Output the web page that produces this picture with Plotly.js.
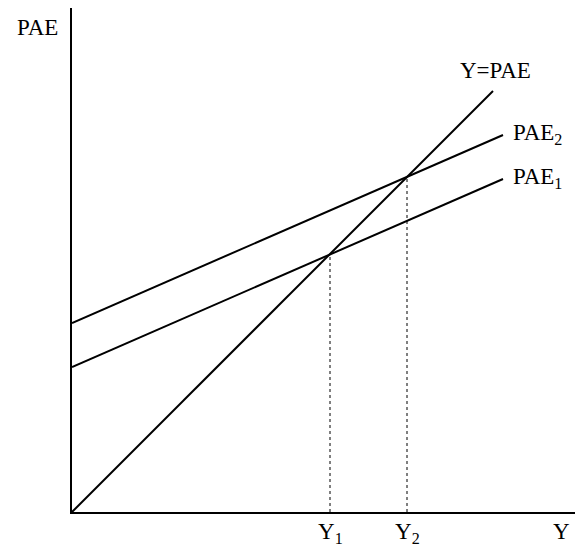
<!DOCTYPE html>
<html>
<head>
<meta charset="utf-8">
<script src="https://cdn.plot.ly/plotly-3.0.1.min.js"></script>
<style>html,body{margin:0;padding:0;background:#fff;}#chart{width:579px;height:550px;}</style>
</head>
<body>
<div id="chart"></div>
<script>
// Data (abstract output units)
const incomeRange = [0, 431];        // Y values for PAE lines
const paeLine1 = [145, 333];         // PAE1 at start/end of range
const paeLine2 = [189, 377];         // PAE2 at start/end of range
const equilibriumX = [0, 421];       // Y = PAE line
const equilibriumY = [0, 421];
const Y1 = 258;                      // first equilibrium
const Y2 = 335;                      // second equilibrium
const lineLabels = ["Y=PAE", "PAE<sub>2</sub>", "PAE<sub>1</sub>"];
const eqLabels = ["Y<sub>1</sub>", "Y<sub>2</sub>"];

const solid = {color: '#000', width: 2};
const dotted = {color: '#000', width: 1, dash: 'dot'};

const traces = [
  {x: equilibriumX, y: equilibriumY, mode: 'lines', line: solid, hoverinfo: 'skip'},
  {x: incomeRange, y: paeLine1, mode: 'lines', line: solid, hoverinfo: 'skip'},
  {x: incomeRange, y: paeLine2, mode: 'lines', line: solid, hoverinfo: 'skip'},
  {x: [Y1, Y1], y: [0, Y1], mode: 'lines', line: dotted, hoverinfo: 'skip'},
  {x: [Y2, Y2], y: [0, Y2], mode: 'lines', line: dotted, hoverinfo: 'skip'}
];

const font = {family: '"Liberation Serif", "Times New Roman", serif', size: 23, color: '#000'};
const ann = (x, y, text, xa) => ({x, y, xref: 'x', yref: 'y', text, showarrow: false, font, xanchor: xa || 'center', yanchor: 'middle'});
const below = (x, text, yoff) => ({x, y: 0, xref: 'x', yref: 'paper', text, showarrow: false, font, xanchor: 'center', yanchor: 'middle', yshift: yoff});

const layout = {
  width: 579, height: 550,
  margin: {l: 72, r: 4, t: 8, b: 38},
  paper_bgcolor: '#fff', plot_bgcolor: '#fff',
  showlegend: false,
  xaxis: {range: [0, 503], showline: true, linecolor: '#000', linewidth: 2, showgrid: false, zeroline: false, showticklabels: false, ticks: '', fixedrange: true},
  yaxis: {range: [0, 504], showline: true, linecolor: '#000', linewidth: 2, showgrid: false, zeroline: false, showticklabels: false, ticks: '', fixedrange: true},
  annotations: [
    ann(equilibriumX[1] + 2, 442, lineLabels[0]),
    ann(incomeRange[1] + 8, paeLine2[1] + 1, lineLabels[1], 'left'),
    ann(incomeRange[1] + 8, paeLine1[1] + 1, lineLabels[2], 'left'),
    below(Y1, eqLabels[0], -21),
    below(Y2, eqLabels[1], -21),
    below(489, 'Y', -19),
    {x: 0, y: 485, xref: 'x', yref: 'y', text: 'PAE', showarrow: false, font, xanchor: 'center', yanchor: 'middle', xshift: -35}
  ]
};

Plotly.newPlot('chart', traces, layout, {staticPlot: true, displayModeBar: false});
</script>
</body>
</html>
